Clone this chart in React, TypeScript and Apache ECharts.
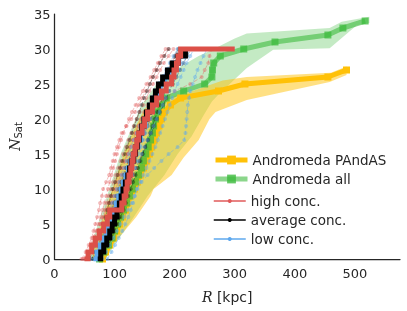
import React, { useEffect, useRef } from "react";
import * as echarts from "echarts";

// Cumulative satellite counts: each array gives R [kpc] for N = 0,1,2,...
const pandasR = [80, 85, 92, 98, 103, 108, 113, 118, 122, 127, 133, 138, 143, 148, 153, 158, 162, 166, 170, 174, 178, 183, 193, 210, 273, 317, 455, 486];
const allR = [75, 82, 90, 96, 100, 105, 110, 115, 120, 125, 130, 135, 140, 145, 148, 152, 156, 160, 163, 165, 168, 172, 178, 186, 215, 250, 262, 263, 265, 276, 315, 367, 455, 480, 517];

// bands: [R, N] pairs, left (upper) edge and right (lower) edge
const pandasBandUpper = [[62, 0], [70, 3], [85, 7], [100, 11], [115, 15], [130, 18], [150, 21.5], [190, 23], [230, 24], [280, 25.5], [320, 26], [460, 26.6], [486, 27.5]];
const pandasBandLower = [[85, 0], [97, 2], [136, 6], [160, 9], [165, 10], [195, 12], [215, 14.5], [240, 17], [258, 20], [268, 21], [320, 22.7], [458, 25.3], [486, 26.3]];
const allBandUpper = [[55, 0], [65, 3], [80, 7], [95, 11], [110, 15], [125, 18], [145, 22], [170, 25], [200, 27], [240, 29], [265, 30], [300, 31.5], [320, 32.2], [458, 33], [478, 33.9], [524, 34.6]];
const allBandLower = [[85, 0], [100, 2], [132, 6], [155, 9], [183, 12], [205, 15], [228, 17.5], [248, 20.5], [262, 22.5], [273, 23.5], [320, 27.3], [364, 29.9], [458, 30.1], [503, 33.4], [524, 33.7]];

// individual realizations (R for N = 0..30)
const highRuns = [
  [45, 52, 57, 62, 65, 68, 71, 74, 76, 79, 81, 86, 91, 94, 97, 100, 104, 108, 112, 120, 128, 134, 140, 146, 152, 158, 164, 170, 175, 182, 190],
  [52, 58, 63, 67, 72, 76, 80, 84, 87, 90, 94, 98, 102, 106, 110, 114, 119, 123, 128, 132, 137, 142, 148, 153, 158, 164, 170, 176, 182, 190, 198],
  [58, 64, 70, 75, 80, 85, 89, 93, 97, 101, 105, 109, 113, 118, 123, 128, 133, 138, 143, 148, 153, 158, 164, 170, 176, 183, 190, 197, 204, 210, 216],
  [50, 56, 61, 67, 72, 77, 82, 86, 90, 94, 98, 102, 106, 111, 116, 121, 126, 131, 136, 141, 146, 158, 170, 185, 200, 226, 245, 250, 256, 258, 262],
  [47, 54, 60, 64, 69, 73, 77, 80, 83, 86, 89, 92, 95, 98, 101, 104, 107, 111, 115, 119, 124, 129, 135, 141, 147, 153, 160, 166, 172, 178, 185],
  [55, 61, 66, 71, 76, 81, 86, 90, 94, 98, 102, 106, 110, 114, 118, 122, 126, 130, 134, 139, 144, 149, 155, 161, 167, 174, 181, 188, 195, 202, 209],
];
const avgRuns = [
  [58, 64, 69, 73, 77, 81, 85, 88, 91, 94, 97, 101, 105, 109, 113, 117, 121, 125, 129, 133, 137, 141, 145, 149, 154, 159, 164, 170, 176, 183, 190],
  [68, 74, 79, 84, 88, 92, 96, 100, 104, 108, 112, 116, 120, 125, 130, 135, 140, 145, 150, 155, 160, 165, 170, 175, 180, 186, 192, 198, 204, 210, 216],
  [75, 81, 87, 92, 97, 102, 107, 111, 115, 119, 123, 127, 131, 136, 141, 146, 151, 156, 161, 166, 171, 176, 181, 186, 191, 197, 203, 209, 215, 221, 227],
  [62, 68, 73, 78, 83, 87, 91, 95, 99, 103, 107, 111, 115, 119, 123, 128, 133, 137, 141, 146, 151, 156, 161, 166, 171, 176, 182, 188, 194, 200, 206],
  [65, 70, 75, 80, 85, 89, 93, 97, 101, 105, 109, 113, 117, 121, 126, 131, 136, 141, 146, 150, 154, 158, 163, 168, 173, 178, 184, 190, 196, 202, 208],
  [78, 84, 90, 95, 100, 105, 110, 115, 119, 123, 127, 131, 135, 139, 143, 147, 151, 155, 159, 163, 167, 171, 175, 180, 185, 190, 196, 202, 208, 214, 222],
];
const lowRuns = [
  [60, 66, 71, 76, 80, 84, 88, 92, 96, 100, 104, 108, 112, 116, 120, 124, 128, 132, 137, 142, 147, 152, 157, 162, 168, 174, 180, 186, 192, 198, 205],
  [74, 80, 85, 90, 95, 100, 104, 108, 113, 117, 121, 125, 130, 135, 140, 145, 150, 155, 160, 165, 170, 175, 180, 185, 190, 196, 202, 208, 214, 220, 226],
  [88, 95, 101, 107, 113, 118, 123, 127, 131, 134, 137, 145, 155, 166, 178, 190, 205, 216, 218, 219, 220, 221, 222, 224, 226, 230, 234, 238, 243, 248, 254],
  [66, 72, 77, 82, 86, 90, 94, 98, 102, 106, 110, 114, 118, 122, 127, 132, 137, 142, 147, 152, 157, 162, 167, 172, 177, 183, 189, 195, 201, 208, 214],
  [70, 75, 80, 85, 90, 95, 100, 105, 110, 115, 120, 124, 128, 132, 136, 140, 144, 148, 152, 156, 160, 165, 170, 176, 182, 188, 194, 200, 206, 212, 220],
  [80, 86, 92, 98, 104, 110, 116, 122, 128, 133, 138, 143, 148, 153, 158, 163, 168, 172, 176, 180, 184, 188, 192, 196, 200, 205, 210, 215, 220, 226, 232],
];
// medians (R for N = 0..30)
const highMedian = [50, 56, 62, 68, 75, 82, 88, 92, 112, 116, 119, 121, 124, 127, 129, 131, 134, 137, 140, 146, 150, 155, 163, 170, 178, 186, 195, 199, 203, 206, 210];
const highMedianEnd = [300, 30];
const avgMedian = [72, 77, 82, 87, 92, 96, 100, 104, 108, 111, 114, 118, 122, 125, 128, 132, 135, 138, 141, 145, 149, 153, 158, 163, 168, 173, 180, 188, 196, 206, 218];
const lowMedian = [65, 71, 76, 81, 86, 90, 95, 99, 103, 107, 111, 115, 119, 123, 127, 131, 135, 139, 143, 147, 151, 155, 160, 165, 170, 176, 183, 190, 198, 207, 215];

const xTicks = [0, 100, 200, 300, 400, 500];
const yTicks = [0, 5, 10, 15, 20, 25, 30, 35];

const ORANGE = "#FFC107";
const GREEN = "#3DBB3D";
const RED = "#DC5048";
const RED_THIN = "#E05A5A";
const BLUE = "#5EA8EE";
const TXT = "#262626";
const FONT = "DejaVu Sans";

const toPts = (rs: number[]) => rs.map((r, i) => [r, i]);

function band(upper: number[][], lower: number[][], color: string, opacity: number, z: number) {
  return {
    type: "custom",
    silent: true,
    z,
    data: [[0, 0]],
    renderItem: (_p: any, api: any) => {
      const pts = upper.map((p) => api.coord(p)).concat(lower.slice().reverse().map((p) => api.coord(p)));
      return { type: "polygon", shape: { points: pts }, style: { fill: color, opacity } };
    },
  };
}

function thin(name: string, rs: number[], color: string, opacity: number) {
  return {
    type: "line",
    name,
    data: toPts(rs),
    symbol: "circle",
    symbolSize: 4,
    showSymbol: true,
    lineStyle: { color, width: 1, type: "dashed", opacity },
    itemStyle: { color, opacity },
    z: 4,
  };
}

function median(name: string, pts: number[][], color: string, z: number) {
  return {
    type: "line",
    name,
    data: pts,
    step: "end",
    symbol: "none",
    showSymbol: false,
    lineStyle: { color, width: 5, cap: "butt", join: "miter" },
    itemStyle: { color },
    z,
  };
}

export default function App() {
  const ref = useRef<HTMLDivElement>(null);
  useEffect(() => {
    if (!ref.current) return;
    const chart = echarts.init(ref.current, undefined, { renderer: "svg" });
    const series: any[] = [
      band(allBandUpper, allBandLower, GREEN, 0.3, 1),
      band(pandasBandUpper, pandasBandLower, ORANGE, 0.5, 1),
      {
        type: "line",
        name: "Andromeda PAndAS",
        data: toPts(pandasR),
        symbol: "rect",
        symbolSize: 7,
        lineStyle: { color: ORANGE, width: 5 },
        itemStyle: { color: ORANGE },
        z: 2,
      },
      {
        type: "line",
        name: "Andromeda all",
        data: toPts(allR),
        symbol: "rect",
        symbolSize: 7,
        lineStyle: { color: GREEN, width: 5, opacity: 0.6 },
        itemStyle: { color: GREEN, opacity: 0.75 },
        z: 2,
      },
    ];
    highRuns.forEach((r) => series.push(thin("high conc.", r, RED_THIN, 0.4)));
    avgRuns.forEach((r) => series.push(thin("average conc.", r, "#000000", 0.35)));
    lowRuns.forEach((r) => series.push(thin("low conc.", r, BLUE, 0.45)));
    series.push(median("low median", toPts(lowMedian), BLUE, 5));
    series.push(median("average median", toPts(avgMedian), "#000000", 6));
    series.push(median("high median", toPts(highMedian).concat([highMedianEnd]), RED, 7));

    const legendLine = (name: string, color: string) => ({
      name,
      itemStyle: { color, opacity: 1 },
      lineStyle: { color, type: "solid", width: 1.5, opacity: 1 },
    });
    const legendText = { fontSize: 13.5, color: TXT, fontFamily: FONT };

    chart.setOption({
      animation: false,
      grid: { left: 53, top: 14, width: 347, height: 245, containLabel: false },
      legend: [
        {
          orient: "vertical",
          left: 208,
          top: 148,
          itemWidth: 32,
          itemHeight: 11,
          itemGap: 5,
          textStyle: legendText,
          data: [
            { name: "Andromeda PAndAS", itemStyle: { color: ORANGE }, lineStyle: { color: ORANGE, width: 5 } },
            { name: "Andromeda all", itemStyle: { color: GREEN, opacity: 0.8 }, lineStyle: { color: GREEN, width: 5, opacity: 0.6 } },
          ],
        },
        {
          orient: "vertical",
          left: 208,
          top: 189,
          itemWidth: 32,
          itemHeight: 5,
          itemGap: 5,
          textStyle: legendText,
          data: [legendLine("high conc.", RED_THIN), legendLine("average conc.", "#000000"), legendLine("low conc.", BLUE)],
        },
      ],
      xAxis: {
        type: "value",
        min: 0,
        max: 575,
        interval: 100,
        name: "{i|R} [kpc]",
        nameLocation: "middle",
        nameGap: 31,
        nameTextStyle: {
          fontSize: 14,
          color: TXT,
          fontFamily: FONT,
          rich: { i: { fontFamily: "DejaVu Serif", fontStyle: "italic", fontSize: 14, color: TXT } },
        },
        axisLine: { show: true, lineStyle: { color: TXT, width: 1.25 } },
        axisTick: { show: false },
        splitLine: { show: false },
        axisLabel: {
          fontSize: 13,
          color: TXT,
          fontFamily: FONT,
          margin: 8,
          formatter: (v: number) => (xTicks.includes(v) ? String(v) : ""),
        },
      },
      yAxis: {
        type: "value",
        min: 0,
        max: 35,
        interval: 5,
        name: "{i|N}{s|Sat}",
        nameLocation: "middle",
        nameRotate: 90,
        nameGap: 31,
        nameTextStyle: {
          color: TXT,
          fontFamily: FONT,
          rich: {
            i: { fontFamily: "DejaVu Serif", fontStyle: "italic", fontSize: 14, color: TXT },
            s: { fontFamily: FONT, fontSize: 10, color: TXT, verticalAlign: "bottom", padding: [6, 0, 0, 0] },
          },
        },
        axisLine: { show: true, lineStyle: { color: TXT, width: 1.25 } },
        axisTick: { show: false },
        splitLine: { show: false },
        axisLabel: {
          fontSize: 13,
          color: TXT,
          fontFamily: FONT,
          margin: 4,
          formatter: (v: number) => (yTicks.includes(v) ? String(v) : ""),
        },
      },
      series,
    });
    return () => chart.dispose();
  }, []);
  return <div ref={ref} style={{ position: "fixed", left: 0, top: 0, width: 407, height: 311 }} />;
}
